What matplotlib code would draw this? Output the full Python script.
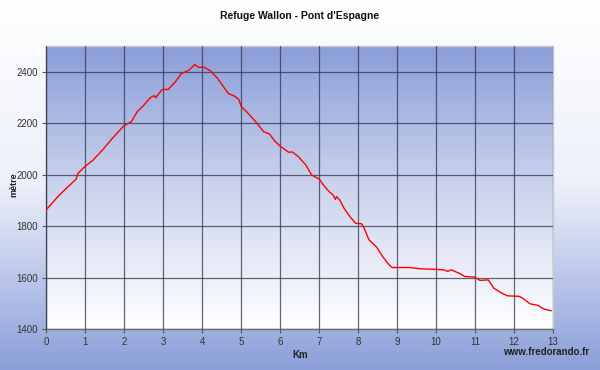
import numpy as np
import matplotlib
matplotlib.use("Agg")
import matplotlib.pyplot as plt
from matplotlib.colors import LinearSegmentedColormap

plt.rcParams['font.family'] = ['Liberation Sans', 'DejaVu Sans']

title = "Refuge Wallon - Pont d'Espagne"
xlabel = "Km"
ylabel = "mètre"
credit = "www.fredorando.fr"

km = [0.00, 0.08, 0.32, 0.52, 0.77, 0.82, 0.98, 1.21, 1.45, 1.70, 1.80, 1.99,
      2.19, 2.34, 2.49, 2.68, 2.78, 2.81, 2.98, 3.13, 3.32, 3.47, 3.67, 3.81,
      3.91, 4.06, 4.21, 4.40, 4.55, 4.67, 4.82, 4.94, 5.01, 5.14, 5.34, 5.58,
      5.73, 5.88, 6.02, 6.22, 6.32, 6.47, 6.66, 6.81, 7.01, 7.11, 7.26, 7.36,
      7.42, 7.45, 7.53, 7.64, 7.79, 7.94, 8.09, 8.14, 8.28, 8.48, 8.63, 8.77,
      8.87, 9.02, 9.32, 9.61, 9.95, 10.20, 10.30, 10.39, 10.59, 10.74, 10.99,
      11.13, 11.34, 11.48, 11.68, 11.83, 12.13, 12.22, 12.41, 12.61, 12.76, 12.95]
elev = [1863, 1876, 1917, 1947, 1982, 2005, 2029, 2057, 2096, 2141, 2157, 2189,
        2206, 2245, 2267, 2300, 2307, 2299, 2331, 2331, 2361, 2393, 2406, 2428,
        2417, 2417, 2404, 2374, 2342, 2316, 2306, 2293, 2264, 2245, 2212, 2167,
        2158, 2128, 2109, 2087, 2088, 2070, 2038, 1999, 1982, 1960, 1934, 1921,
        1904, 1915, 1902, 1870, 1837, 1811, 1809, 1798, 1747, 1718, 1682, 1654,
        1639, 1639, 1639, 1634, 1632, 1630, 1624, 1630, 1617, 1604, 1602,
        1589, 1591, 1559, 1540, 1529, 1527, 1520, 1498, 1492, 1478, 1471]

xticks = list(range(0, 14))
yticks = [1400, 1600, 1800, 2000, 2200, 2400]

blue = (138/255, 158/255, 216/255)
white = (1, 1, 1)

fig = plt.figure(figsize=(6, 3.7), dpi=100)

# figure background gradient: white at top -> blue at bottom
bg = fig.add_axes([0, 0, 1, 1], zorder=-10)
cmap_fig = LinearSegmentedColormap.from_list("fg", [white, (0.93, 0.94, 0.98), blue])
grad = np.linspace(0, 1, 256).reshape(-1, 1)
bg.imshow(grad, aspect='auto', cmap=cmap_fig, extent=[0, 1, 0, 1], origin='upper')
bg.set_axis_off()

ax = fig.add_axes([46/600, 41/370, 507/600, 283/370])
ax.set_facecolor('none')
cmap_ax = LinearSegmentedColormap.from_list("ag", [white, (0.80, 0.83, 0.93), blue])
ax.imshow(np.linspace(0, 1, 256).reshape(-1, 1), aspect='auto', cmap=cmap_ax,
          extent=[0, 13, 1400, 2500], origin='lower', zorder=0)

ax.plot(km, elev, color='#ff0000', lw=1.0, zorder=3)

ax.set_xlim(0, 13)
ax.set_ylim(1400, 2500)
ax.set_xticks(xticks)
ax.set_yticks(yticks)
ax.grid(True, color='#2e3550', alpha=0.75, lw=0.9, zorder=1)
ax.set_axisbelow(False)
for l in ax.get_xgridlines() + ax.get_ygridlines():
    l.set_zorder(1)

ax.tick_params(axis='both', labelsize=7, colors='#555555', labelcolor='#333333',
               length=3, width=0.8, pad=3)
for s in ['left', 'bottom']:
    ax.spines[s].set_color('#6a6a6a')
    ax.spines[s].set_linewidth(1)
for s in ['top', 'right']:
    ax.spines[s].set_color('#c8c8d0')
    ax.spines[s].set_linewidth(1)

fig.text(0.5, 1 - 16/370, title, ha='center', va='center', fontsize=7.5,
         fontweight='bold', color='#111111')
fig.text(14/600, 1 - 185/370, ylabel, ha='center', va='center', rotation=90,
         fontsize=6.5, fontweight='bold', color='#222222')
fig.text(300/600, 1 - 355/370, xlabel, ha='center', va='center',
         fontsize=7, fontweight='bold', color='#222222')
fig.text(589/600, 1 - 352/370, credit, ha='right', va='center',
         fontsize=7, fontweight='bold', color='#222222')

fig.savefig("out.png", dpi=100)
